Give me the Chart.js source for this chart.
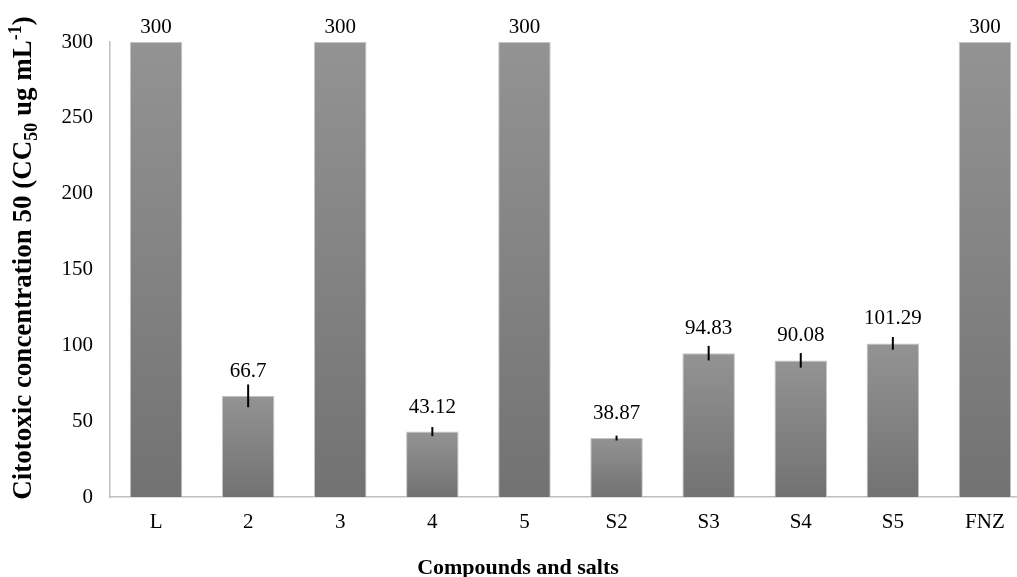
<!DOCTYPE html>
<html>
<head>
<meta charset="utf-8">
<script src="https://cdn.jsdelivr.net/npm/chart.js@4/dist/chart.umd.min.js"></script>
<style>
  html, body { margin: 0; padding: 0; background: #fff; overflow: hidden; }
  #wrap { width: 1040px; height: 577px; }
</style>
</head>
<body>
<div id="wrap"><canvas id="c" width="1040" height="577"></canvas></div>
<script>
// Cytotoxic concentration (CC50) per compound / salt, with standard deviations
const categories = ['L', '2', '3', '4', '5', 'S2', 'S3', 'S4', 'S5', 'FNZ'];
const cc50Values = [300, 66.7, 300, 43.12, 300, 38.87, 94.83, 90.08, 101.29, 300];
const cc50Errors = [0, 7.5, 0, 3.0, 0, 1.6, 4.8, 4.8, 4.2, 0];
const yTicks = [0, 50, 100, 150, 200, 250, 300];

const SERIF = '"Liberation Serif", "Times New Roman", serif';

// vertical grey gradient spanning each bar from its top to the baseline
function barGradient(c) {
  const chart = c.chart;
  const y = chart.scales && chart.scales.y;
  if (!y || c.type !== 'data') return '#838383';
  const top = y.getPixelForValue(c.raw);
  const bottom = y.getPixelForValue(0);
  if (!isFinite(top) || !isFinite(bottom) || top === bottom) return '#838383';
  const g = chart.ctx.createLinearGradient(0, top, 0, bottom);
  g.addColorStop(0, '#939393');
  g.addColorStop(1, '#727272');
  return g;
}

// error whiskers and value labels above each bar
const barAnnotations = {
  id: 'barAnnotations',
  afterDatasetsDraw(chart) {
    const ctx = chart.ctx;
    const meta = chart.getDatasetMeta(0);
    const y = chart.scales.y;
    ctx.save();
    ctx.strokeStyle = '#000';
    ctx.lineWidth = 2;
    meta.data.forEach((bar, i) => {
      const err = cc50Errors[i];
      if (err > 0) {
        ctx.beginPath();
        ctx.moveTo(bar.x, y.getPixelForValue(cc50Values[i] + err));
        ctx.lineTo(bar.x, y.getPixelForValue(cc50Values[i] - err));
        ctx.stroke();
      }
    });
    ctx.fillStyle = '#000';
    ctx.font = '21px ' + SERIF;
    ctx.textAlign = 'center';
    ctx.textBaseline = 'alphabetic';
    meta.data.forEach((bar, i) => {
      const baseline = Math.max(bar.y - 19, chart.chartArea.top - 9);
      ctx.fillText(String(cc50Values[i]), bar.x, baseline);
    });
    ctx.restore();
  }
};

// axis titles (the y title carries a subscript and a superscript)
const axisTitles = {
  id: 'axisTitles',
  afterDraw(chart) {
    const ctx = chart.ctx;
    ctx.save();
    ctx.fillStyle = '#000';
    ctx.textBaseline = 'alphabetic';

    ctx.font = 'bold 22px ' + SERIF;
    ctx.textAlign = 'center';
    ctx.fillText('Compounds and salts', 518, 574);

    const main = 'bold 27px ' + SERIF;
    const small = 'bold 18px ' + SERIF;
    const parts = [
      { t: 'Citotoxic concentration 50 (CC', f: main, dy: 0 },
      { t: '50', f: small, dy: 6 },
      { t: ' ug mL', f: main, dy: 0 },
      { t: '-1', f: small, dy: -10 },
      { t: ')', f: main, dy: 0 }
    ];
    let total = 0;
    parts.forEach(p => { ctx.font = p.f; p.w = ctx.measureText(p.t).width; total += p.w; });
    ctx.translate(31, 258);
    ctx.rotate(-Math.PI / 2);
    ctx.textAlign = 'left';
    let x = -total / 2;
    parts.forEach(p => {
      ctx.font = p.f;
      ctx.fillText(p.t, x, p.dy);
      x += p.w;
    });
    ctx.restore();
  }
};

new Chart(document.getElementById('c'), {
  type: 'bar',
  data: {
    labels: categories,
    datasets: [{
      data: cc50Values,
      backgroundColor: barGradient,
      borderColor: '#c4c4c4',
      borderWidth: 1,
      categoryPercentage: 1.0,
      barPercentage: 0.57
    }]
  },
  options: {
    responsive: false,
    animation: false,
    events: [],
    layout: { padding: { top: 42, right: 9, left: 0, bottom: 0 } },
    plugins: { legend: { display: false }, tooltip: { enabled: false } },
    scales: {
      x: {
        grid: { display: false, drawTicks: false },
        border: { display: true, color: '#bfbfbf', width: 1.5 },
        ticks: { color: '#000', font: { family: SERIF, size: 21 }, padding: 13, maxRotation: 0 },
        afterFit(scale) { scale.height = 80; }
      },
      y: {
        min: 0,
        max: 300,
        afterBuildTicks(scale) { scale.ticks = yTicks.map(v => ({ value: v })); },
        grid: { display: false, drawTicks: false },
        border: { display: true, color: '#bfbfbf', width: 1.5 },
        ticks: { color: '#000', font: { family: SERIF, size: 21 }, padding: 17 },
        afterFit(scale) { scale.width = 110; }
      }
    }
  },
  plugins: [barAnnotations, axisTitles]
});
</script>
</body>
</html>
